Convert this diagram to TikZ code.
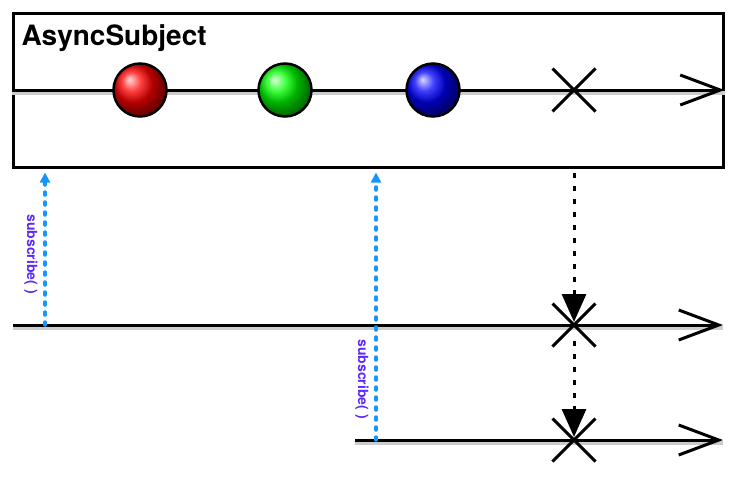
\documentclass[tikz,border=0pt]{standalone}
\usepackage{fontspec}
\setmainfont{TeX Gyre Heros}
\usetikzlibrary{arrows.meta,positioning,shapes.misc}

\definecolor{subblue}{RGB}{20,150,250}
\definecolor{sublabel}{RGB}{90,40,250}

\begin{document}
\begin{tikzpicture}[%
    x=1pt, y=-1pt,
    timeline/.style={line width=3pt, -{Straight Barb[length=40pt,width=30pt,line width=3pt]},
        preaction={draw=black!20, line width=4pt, transform canvas={yshift=-3pt}, -}},
    marble/.style={circle, draw, line width=2.5pt, minimum size=53pt, inner sep=0pt},
    stop/.style={cross out, draw, line width=3pt, minimum size=40pt, inner sep=0pt},
    subscribe/.style={draw=subblue, line width=3.5pt, line cap=round,
        dash pattern=on 3pt off 7pt, -{Triangle[length=10pt,width=10pt]}, shorten >=4pt},
    sublabel/.style={text=sublabel, font=\fontsize{14}{15}\selectfont\bfseries, rotate=-90},
    complete/.style={line width=3pt, dash pattern=on 5pt off 8pt,
        -{Triangle[length=28pt,width=24pt]}}
    ]
    \useasboundingbox (0,0) rectangle (744,483);

    % the subject
    \node[draw, line width=3pt, minimum width=710pt, minimum height=154pt, inner sep=0pt] (subject) at (368,90) {};
    \node[anchor=base west, font=\fontsize{28}{30}\selectfont\bfseries] (title) at (18,45) {AsyncSubject};
    \draw[timeline] (subject.west) -- (subject.east);
    \node[marble, ball color=red] (red) at (140,90) {};
    \node[marble, ball color=green] (green) at (285,90) {};
    \node[marble, ball color=blue] (blue) at (433,90) {};
    \node[stop] (x0) at (574,90) {};

    % first subscriber
    \coordinate (a0) at (13,325);
    \coordinate (a1) at (723,325);
    \draw[timeline] (a0) -- (a1);
    \node[stop] (x1) at (574,325) {};

    % second subscriber
    \coordinate (b0) at (355,440);
    \coordinate (b1) at (723,440);
    \draw[timeline] (b0) -- (b1);
    \node[stop] (x2) at (574,440) {};

    \coordinate (s1) at (45,325);
    \coordinate (s2) at (376,440);
    \draw[subscribe] (s1) -- (s1 |- subject.south);
    \draw[subscribe] (s2) -- (s2 |- subject.south);
    \node[sublabel] (l1) at (31,254) {subscribe( )};
    \node[sublabel] (l2) at (362,379) {subscribe( )};

    \draw[complete, shorten <=4pt, shorten >=3pt] (x0 |- subject.south) -- (x1.center);
    \draw[complete, shorten <=16pt, shorten >=3pt] (x1.center) -- (x2.center);
\end{tikzpicture}
\end{document}
